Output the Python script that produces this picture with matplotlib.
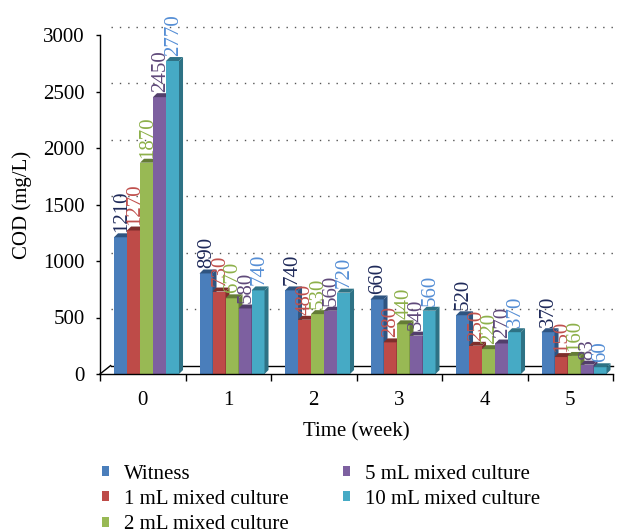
import matplotlib.pyplot as plt
from matplotlib.patches import Polygon
import numpy as np

plt.rcParams['font.family'] = ['Liberation Serif', 'DejaVu Serif']

weeks = ["0", "1", "2", "3", "4", "5"]
series = ["Witness", "1 mL mixed culture", "2 mL mixed culture",
          "5 mL mixed culture", "10 mL mixed culture"]
witness = [1210, 890, 740, 660, 520, 370]
ml1 = [1270, 730, 480, 280, 250, 150]
ml2 = [1870, 670, 530, 440, 220, 160]
ml5 = [2450, 580, 560, 340, 270, 83]
ml10 = [2770, 740, 720, 560, 370, 60]
values = [witness, ml1, ml2, ml5, ml10]

front = ["#4A7EBB", "#BE4B48", "#98B954", "#7D60A0", "#46AAC5"]
side = ["#2F5480", "#7E2E2C", "#647C36", "#523E6B", "#2E7285"]
label_col = ["#1F2A5A", "#C0504D", "#8DB04A", "#5F497A", "#558ED5"]

fig = plt.figure(figsize=(6.17, 5.32), dpi=100)
ax = fig.add_axes([100 / 617, 158 / 532, 513 / 617, 339 / 532])

x = np.arange(len(weeks))
w = 0.152
dx, dy = 0.047, 35          # bar depth
wx, wy = 0.125, 75          # back wall offset

ax.set_xlim(-0.5, 5.5)
ax.set_ylim(0, 3000)

# back wall: dotted gridlines and floor
for g in range(500, 3001, 500):
    ax.plot([-0.5 + wx, 5.52], [g + wy, g + wy], ls=(0, (1, 5)), color="#555555",
            lw=1.0, clip_on=False, zorder=0)
ax.plot([-0.5 + wx, 5.5], [wy, wy], color="black", lw=1.0, clip_on=False, zorder=1)
ax.plot([-0.5, -0.5 + wx], [0, wy], color="black", lw=1.0, clip_on=False, zorder=1)

for j, vals in enumerate(values):
    left = x - 0.336 + j * w
    ax.bar(left, vals, width=w, align="edge", color=front[j], zorder=3,
           label=series[j])
    for xl, v in zip(left, vals):
        top = Polygon([(xl, v), (xl + dx, v + dy), (xl + w + dx, v + dy), (xl + w, v)],
                      closed=True, facecolor=side[j], edgecolor="none", zorder=3)
        rside = Polygon([(xl + w, 0), (xl + w + dx, dy), (xl + w + dx, v + dy), (xl + w, v)],
                        closed=True, facecolor=side[j], edgecolor="none", zorder=3)
        ax.add_patch(top)
        ax.add_patch(rside)
        ax.text(xl + w / 2 + 0.01, v + 45, str(v), rotation=90, ha="center", va="bottom",
                fontsize=15, color=label_col[j], zorder=5)

for s in ["top", "right", "bottom"]:
    ax.spines[s].set_visible(False)
ax.spines["left"].set_linewidth(1.0)
ax.axhline(0, color="black", lw=1.0, zorder=4, clip_on=False)

ax.set_yticks(range(0, 3001, 500))
ax.tick_params(axis="y", length=3, width=1.0, pad=8, labelsize=15)
ax.set_xticks(x)
ax.set_xticklabels(weeks)
ax.tick_params(axis="x", length=0, pad=12, labelsize=15)
ax.set_xticks(np.arange(-0.5, 6, 1), minor=True)
ax.tick_params(axis="x", which="minor", length=5, width=1.0)

ax.set_ylabel("COD (mg/L)", fontsize=15, labelpad=8)
ax.set_xlabel("Time (week)", fontsize=15, labelpad=9)

leg = fig.legend(loc="upper left", bbox_to_anchor=(0.135, 0.162), ncol=2,
                 frameon=False, fontsize=15, handlelength=0.35, handleheight=0.35,
                 handletextpad=0.7, columnspacing=2.6, labelspacing=0.3)

fig.savefig("out.png", dpi=100)
